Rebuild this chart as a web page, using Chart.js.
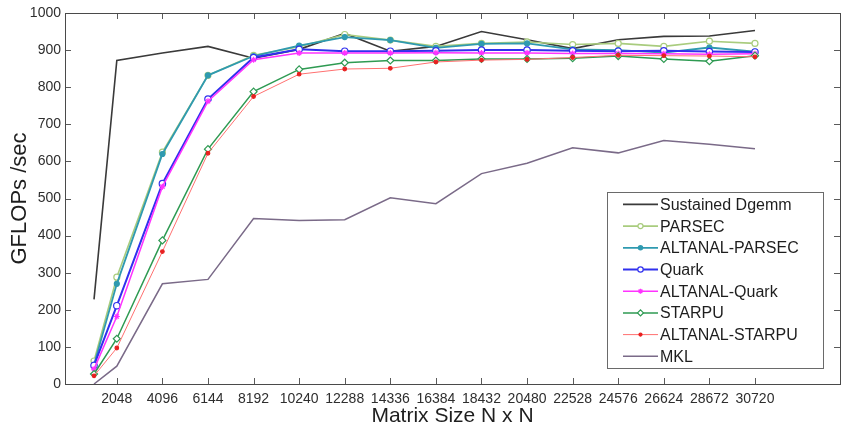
<!DOCTYPE html>
<html>
<head>
<meta charset="utf-8">
<script src="https://cdn.jsdelivr.net/npm/chart.js@4/dist/chart.umd.min.js"></script>
<style>
  html, body { margin: 0; padding: 0; background: #fff; }
  #chart { display: block; }
</style>
</head>
<body>
<canvas id="chart" width="847" height="430"></canvas>
<script>
// ── Data ─────────────────────────────────────────────────
const sizes   = [1024, 2048, 4096, 6144, 8192, 10240, 12288, 14336, 16384, 18432, 20480, 22528, 24576, 26624, 28672, 30720];
const xTicks  = [2048, 4096, 6144, 8192, 10240, 12288, 14336, 16384, 18432, 20480, 22528, 24576, 26624, 28672, 30720];
const yTicks  = [0, 100, 200, 300, 400, 500, 600, 700, 800, 900, 1000];

const labels  = ['Sustained Dgemm', 'PARSEC', 'ALTANAL-PARSEC', 'Quark', 'ALTANAL-Quark', 'STARPU', 'ALTANAL-STARPU', 'MKL'];

const dgemm         = [228, 872, 892, 910, 878, 902, 945, 897, 910, 950, 928, 904, 928, 937, 938, 953];
const parsec        = [62, 288, 625, 832, 886, 909, 942, 927, 910, 918, 922, 915, 918, 910, 924, 918];
const altanalParsec = [52, 270, 620, 832, 884, 912, 935, 927, 906, 917, 918, 902, 900, 893, 907, 896];
const quark         = [50, 211, 540, 768, 880, 902, 897, 897, 898, 900, 900, 898, 897, 898, 896, 895];
const altanalQuark  = [40, 182, 532, 762, 874, 892, 892, 892, 893, 892, 892, 891, 891, 890, 889, 890];
const starpu        = [27, 122, 387, 633, 788, 848, 866, 872, 872, 876, 876, 878, 884, 876, 870, 885];
const altanalStarpu = [22, 97, 357, 622, 775, 835, 849, 851, 868, 873, 875, 880, 886, 885, 884, 882];
const mkl           = [0, 48, 270, 282, 446, 441, 443, 502, 486, 567, 595, 637, 623, 656, 646, 634];

// ── Styles ───────────────────────────────────────────────
const FONT = '"Liberation Sans", Arial, Helvetica, sans-serif';

const series = [
  { data: dgemm,         color: '#3a3a3a', width: 1.6, style: false },
  { data: parsec,        color: '#a9cc7e', width: 1.6, style: 'circle',  radius: 3,   fill: '#ffffff' },
  { data: altanalParsec, color: '#2f9ab0', width: 1.8, style: 'circle',  radius: 2.5, fill: '#2f9ab0' },
  { data: quark,         color: '#3030ee', width: 2.0, style: 'circle',  radius: 3.2, fill: '#ffffff' },
  { data: altanalQuark,  color: '#ff33ff', width: 1.5, style: 'star',    radius: 3,   fill: '#ff33ff' },
  { data: starpu,        color: '#2e9a52', width: 1.5, style: 'rectRot', radius: 3.5, fill: '#ffffff' },
  { data: altanalStarpu, color: '#ff7070', width: 1.0, style: 'circle',  radius: 1.8, fill: '#e82020', border: '#e82020' },
  { data: mkl,           color: '#7a6a88', width: 1.5, style: false },
];

const datasets = series.map((s, i) => ({
  label: labels[i],
  data: sizes.map((n, j) => ({ x: n, y: s.data[j] })),
  borderColor: s.color,
  borderWidth: s.width,
  backgroundColor: s.fill || s.color,
  pointStyle: s.style,
  pointRadius: s.style ? s.radius : 0,
  pointBorderColor: s.border || s.color,
  pointBackgroundColor: s.fill || s.color,
  pointBorderWidth: 1.2,
  tension: 0,
  order: series.length - i,   // later series on top
}));

// ── Box + inward ticks (MATLAB style) ────────────────────
const framePlugin = {
  id: 'frame',
  afterDatasetsDraw(chart) {
    const { ctx, chartArea: a, scales: { x, y } } = chart;
    const line = (x1, y1, x2, y2) => { ctx.beginPath(); ctx.moveTo(x1, y1); ctx.lineTo(x2, y2); ctx.stroke(); };
    ctx.save();
    ctx.strokeStyle = '#5a5a5a';
    ctx.lineWidth = 1;
    for (const t of x.ticks) {
      const px = Math.round(x.getPixelForValue(t.value)) + 0.5;
      line(px, a.bottom, px, a.bottom - 6);
      line(px, a.top, px, a.top + 6);
    }
    for (const t of y.ticks) {
      const py = Math.round(y.getPixelForValue(t.value)) + 0.5;
      line(a.left, py, a.left + 6, py);
      line(a.right, py, a.right - 6, py);
    }
    ctx.strokeStyle = '#4a4a4a';
    ctx.strokeRect(Math.round(a.left) + 0.5, Math.round(a.top) + 0.5, Math.round(a.width), Math.round(a.height));
    ctx.restore();
  }
};

// ── Legend box inside plot ───────────────────────────────
const boxLegend = {
  id: 'boxLegend',
  afterDraw(chart) {
    const { ctx, chartArea: a } = chart;
    const w = 216, rowH = 21.7;
    const h = rowH * datasets.length + 2;
    const bx = a.right - 17 - w, by = a.bottom - 16 - h;
    ctx.save();
    ctx.fillStyle = '#ffffff';
    ctx.fillRect(bx, by, w, h);
    ctx.strokeStyle = '#6a6a6a';
    ctx.lineWidth = 1;
    ctx.strokeRect(Math.round(bx) + 0.5, Math.round(by) + 0.5, w, Math.round(h));
    ctx.font = '16px ' + FONT;
    ctx.textBaseline = 'middle';
    chart.data.datasets.forEach((ds, i) => {
      const cy = by + 12 + i * rowH;
      const x0 = bx + 16, x1 = bx + 51;
      ctx.strokeStyle = ds.borderColor;
      ctx.lineWidth = ds.borderWidth;
      ctx.beginPath(); ctx.moveTo(x0, cy); ctx.lineTo(x1, cy); ctx.stroke();
      if (ds.pointStyle && Chart.helpers && Chart.helpers.drawPoint) {
        ctx.fillStyle = ds.pointBackgroundColor;
        ctx.strokeStyle = ds.pointBorderColor;
        ctx.lineWidth = 1.2;
        Chart.helpers.drawPoint(ctx, { pointStyle: ds.pointStyle, radius: ds.pointRadius * 0.85, rotation: 0, borderWidth: 1.2 }, (x0 + x1) / 2, cy);
      }
      ctx.fillStyle = '#1e1e1e';
      ctx.fillText(ds.label, x1 + 2, cy + 1);
    });
    ctx.restore();
  }
};

// ── Chart ────────────────────────────────────────────────
new Chart(document.getElementById('chart').getContext('2d'), {
  type: 'line',
  data: { datasets },
  plugins: [framePlugin, boxLegend],
  options: {
    responsive: false,
    animation: false,
    layout: { padding: { top: 13, right: 7, left: 0, bottom: 0 } },
    plugins: { legend: { display: false }, tooltip: { enabled: false } },
    scales: {
      x: {
        type: 'linear',
        min: -280,
        max: 34540,
        grid: { display: false, drawTicks: false },
        border: { display: false },
        afterBuildTicks: (s) => { s.ticks = xTicks.map(v => ({ value: v })); },
        afterFit: (s) => { s.height = 46; },
        ticks: {
          autoSkip: false, maxRotation: 0, padding: 7,
          color: '#2e2e2e', font: { family: FONT, size: 14 },
          callback: (v) => String(v),
        },
        title: { display: true, text: 'Matrix Size N x N', color: '#1e1e1e', font: { family: FONT, size: 21 }, padding: { top: 0, bottom: 1 } },
      },
      y: {
        min: 0,
        max: 1000,
        grid: { display: false, drawTicks: false },
        border: { display: false },
        afterBuildTicks: (s) => { s.ticks = yTicks.map(v => ({ value: v })); },
        afterFit: (s) => { s.width = 65; },
        ticks: {
          padding: 4, color: '#2e2e2e', font: { family: FONT, size: 14 },
          callback: (v) => String(v),
        },
        title: { display: true, text: 'GFLOPs /sec', color: '#1e1e1e', font: { family: FONT, size: 22 }, padding: { top: 7, bottom: 0 } },
      },
    },
  },
});
</script>
</body>
</html>
